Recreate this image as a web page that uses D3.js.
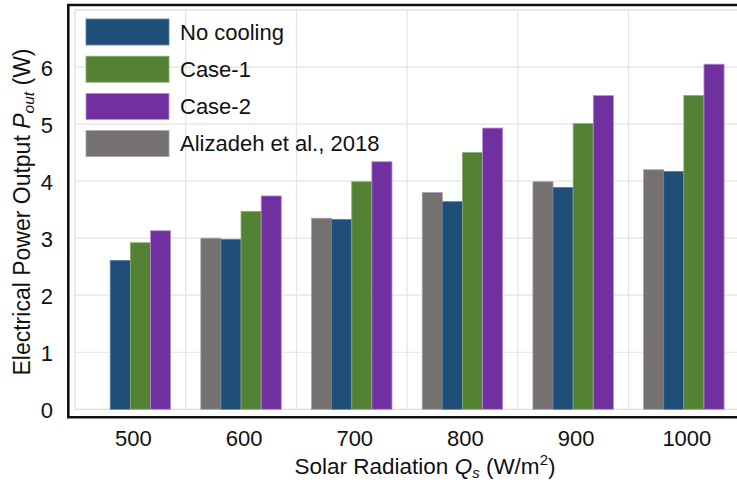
<!DOCTYPE html>
<html>
<head>
<meta charset="utf-8">
<script src="https://cdn.jsdelivr.net/npm/d3@7"></script>
<style>
  html, body { margin: 0; padding: 0; background: #fff; }
  svg { display: block; font-family: "Liberation Sans", Arial, sans-serif; }
</style>
</head>
<body>
<svg id="chart" width="737" height="482"></svg>
<script>
// ---- Data ----
const categories = ["500", "600", "700", "800", "900", "1000"];
const seriesKeys = ["alizadeh", "noCooling", "case1", "case2"];
const seriesNames = ["Alizadeh et al., 2018", "No cooling", "Case-1", "Case-2"];
const alizadeh  = [null, 3.00, 3.35, 3.80, 3.99, 4.20];
const noCooling = [2.61, 2.98, 3.33, 3.64, 3.89, 4.17];
const case1     = [2.92, 3.47, 3.99, 4.50, 5.01, 5.50];
const case2     = [3.13, 3.74, 4.34, 4.93, 5.50, 6.05];
const yTicks = [0, 1, 2, 3, 4, 5, 6];
const legendOrder = ["noCooling", "case1", "case2", "alizadeh"];

const colors = { alizadeh: "#767171", noCooling: "#1f4e79", case1: "#548235", case2: "#7030a0" };
const outlines = { alizadeh: "#a8a4a4", noCooling: "#5a7fa3", case1: "#8bab72", case2: "#b38fd0" };
const valuesByKey = { alizadeh, noCooling, case1, case2 };
const nameByKey = {};
seriesKeys.forEach((k, i) => nameByKey[k] = seriesNames[i]);

// ---- Layout ----
const svg = d3.select("#chart");
const box = { left: 75, right: 739.2, top: 10, bottom: 409.3 };

const x = d3.scaleBand().domain(categories).range([box.left, box.right]).padding(0);
const y = d3.scaleLinear().domain([0, 7]).range([box.bottom, box.top]);
const groupW = x.bandwidth() * 0.727;
const x1 = d3.scaleBand().domain(seriesKeys).range([0, groupW]).padding(0);
const groupOff = (x.bandwidth() - groupW) / 2;

// gridlines
const grid = svg.append("g");
grid.selectAll("line.h").data(yTicks.slice(1)).join("line")
  .attr("x1", box.left).attr("x2", box.right)
  .attr("y1", d => y(d)).attr("y2", d => y(d))
  .attr("stroke", "#e4e4e4").attr("stroke-width", 1.2);
grid.selectAll("line.v").data(categories.slice(1)).join("line")
  .attr("x1", d => x(d)).attr("x2", d => x(d))
  .attr("y1", box.top).attr("y2", box.bottom)
  .attr("stroke", "#e4e4e4").attr("stroke-width", 1.2);

// inner axes box (light)
svg.append("rect")
  .attr("x", box.left).attr("y", box.top)
  .attr("width", box.right - box.left).attr("height", box.bottom - box.top)
  .attr("fill", "none").attr("stroke", "#dcdcdc").attr("stroke-width", 1.2);

// bars
const rows = [];
categories.forEach((c, i) => {
  seriesKeys.forEach(k => {
    const v = valuesByKey[k][i];
    if (v != null) rows.push({ c, k, v });
  });
});
svg.append("g").selectAll("rect").data(rows).join("rect")
  .attr("x", d => x(d.c) + groupOff + x1(d.k))
  .attr("y", d => y(d.v))
  .attr("width", x1.bandwidth())
  .attr("height", d => y(0) - y(d.v))
  .attr("fill", d => colors[d.k])
  .attr("stroke", d => outlines[d.k])
  .attr("stroke-width", 0.8);

// outer black frame (top, left, bottom)
const frame = svg.append("g").attr("stroke", "#111").attr("stroke-width", 2.6).attr("fill", "none");
frame.append("path").attr("d", "M737,5 H68.3 V417.2 H737");

// axes
const xAxis = svg.append("g")
  .attr("transform", `translate(0,${box.bottom})`)
  .call(d3.axisBottom(x).tickSize(0).tickPadding(21.5));
xAxis.select(".domain").remove();
xAxis.selectAll("text").attr("font-size", 22).attr("fill", "#111")
  .attr("dx", 3).attr("font-family", "Liberation Sans, Arial, sans-serif");

const yAxis = svg.append("g")
  .attr("transform", `translate(${box.left},0)`)
  .call(d3.axisLeft(y).tickValues(yTicks).tickSize(0).tickPadding(22).tickFormat(d3.format("d")));
yAxis.select(".domain").remove();
yAxis.selectAll("text").attr("font-size", 22).attr("fill", "#111")
  .attr("dy", "0.38em").attr("font-family", "Liberation Sans, Arial, sans-serif");

// axis titles
const xt = svg.append("text")
  .attr("x", 425).attr("y", 474)
  .attr("text-anchor", "middle").attr("font-size", 22.5).attr("fill", "#111");
xt.append("tspan").text("Solar Radiation ");
xt.append("tspan").attr("font-style", "italic").text("Q");
xt.append("tspan").attr("font-style", "italic").attr("font-size", 15).attr("dy", 4).text("s");
xt.append("tspan").attr("dy", -4).text(" (W/m");
xt.append("tspan").attr("font-size", 15).attr("dy", -9).text("2");
xt.append("tspan").attr("dy", 9).text(")");

const yt = svg.append("text")
  .attr("transform", "translate(30,212) rotate(-90)")
  .attr("text-anchor", "middle").attr("font-size", 23).attr("fill", "#111");
yt.append("tspan").text("Electrical Power Output ");
yt.append("tspan").attr("font-style", "italic").text("P");
yt.append("tspan").attr("font-style", "italic").attr("font-size", 15.5).attr("dy", 4).text("out");
yt.append("tspan").attr("dy", -4).text(" (W)");

// legend
const legend = svg.append("g");
const lg = legend.selectAll("g").data(legendOrder).join("g")
  .attr("transform", (d, i) => `translate(86,${19 + i * 37.2})`);
lg.append("rect")
  .attr("width", 83).attr("height", 26)
  .attr("fill", d => colors[d])
  .attr("stroke", d => outlines[d]).attr("stroke-width", 0.8);
lg.append("text")
  .attr("x", 94).attr("y", 13).attr("dy", "0.35em")
  .attr("font-size", 22).attr("fill", "#111")
  .text(d => nameByKey[d]);
</script>
</body>
</html>
